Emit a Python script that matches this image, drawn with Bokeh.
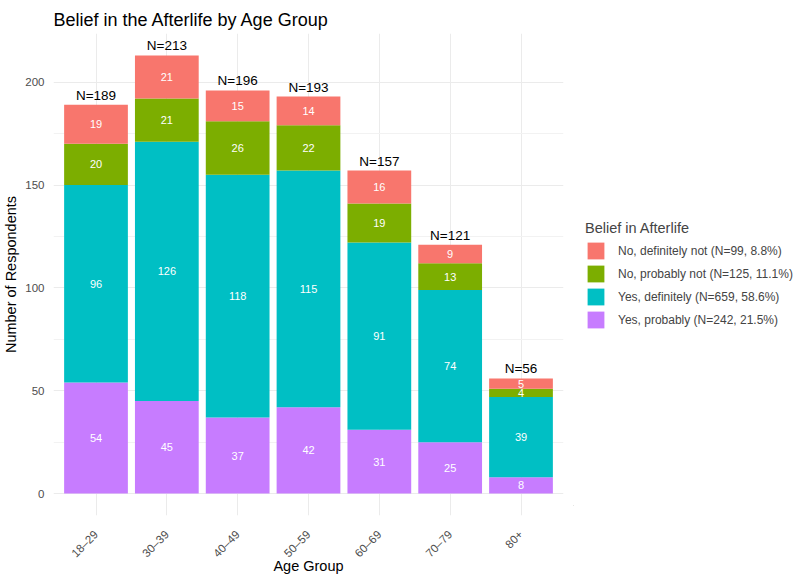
import math
from bokeh.plotting import figure
from bokeh.layouts import row
from bokeh.models import (ColumnDataSource, Range1d, FixedTicker, Legend, LegendItem)
from bokeh.core.properties import value
from bokeh.embed import file_html
from bokeh.resources import INLINE

age_groups = ["18–29", "30–39", "40–49", "50–59", "60–69", "70–79", "80+"]
yes_probably = [54, 45, 37, 42, 31, 25, 8]
yes_definitely = [96, 126, 118, 115, 91, 74, 39]
no_probably_not = [20, 21, 26, 22, 19, 13, 4]
no_definitely_not = [19, 21, 15, 14, 16, 9, 5]

series_keys = ["yes_probably", "yes_definitely", "no_probably_not", "no_definitely_not"]
series_vals = [yes_probably, yes_definitely, no_probably_not, no_definitely_not]
series_colors = ["#C77CFF", "#00BFC4", "#7CAE00", "#F8766D"]
legend_labels = {
    "no_definitely_not": "No, definitely not (N=99, 8.8%)",
    "no_probably_not": "No, probably not (N=125, 11.1%)",
    "yes_definitely": "Yes, definitely (N=659, 58.6%)",
    "yes_probably": "Yes, probably (N=242, 21.5%)",
}
legend_order = ["no_definitely_not", "no_probably_not", "yes_definitely", "yes_probably"]

FONT = "Liberation Sans"

xs = [i + 1 for i in range(len(age_groups))]
data = {"x": xs}
for k, v in zip(series_keys, series_vals):
    data[k] = v
source = ColumnDataSource(data)

totals = [sum(t) for t in zip(*series_vals)]

TOP = 33
FRAME_W = 510
FRAME_H = 482
BOTTOM = 50
H = 566

p = figure(frame_width=FRAME_W, frame_height=FRAME_H, output_backend="svg", toolbar_location=None,
           x_range=Range1d(0.4, 7.6), y_range=Range1d(-10.65, 223.65),
           min_border_left=46, min_border_top=TOP, min_border_bottom=BOTTOM, min_border_right=10,
           title="Belief in the Afterlife by Age Group")
p.title.text_font = FONT
p.title.text_font_size = "18px"
p.title.text_font_style = "normal"
p.title.text_color = "black"
p.title.offset = 0
p.title.standoff = 8

renderers = p.vbar_stack(series_keys, x="x", width=0.9, source=source,
                         color=series_colors, line_color=None)

# segment labels
lx, ly, lt = [], [], []
for i in range(len(xs)):
    base = 0
    for v in series_vals:
        lx.append(xs[i]); ly.append(base + v[i] / 2); lt.append(str(v[i]))
        base += v[i]
seg_src = ColumnDataSource(dict(x=lx, y=ly, t=lt))
p.text(x="x", y="y", text="t", source=seg_src, text_color="white", text_font_size="11px",
       text_align="center", text_baseline="middle", text_font=value(FONT))

tot_src = ColumnDataSource(dict(x=xs, y=totals, t=["N=%d" % t for t in totals]))
p.text(x="x", y="y", text="t", source=tot_src, text_color="black", text_font_size="13.5px",
       text_align="center", text_baseline="bottom", y_offset=-2, text_font=value(FONT))

# axes
p.xaxis.ticker = FixedTicker(ticks=xs)
p.xaxis.major_label_overrides = {x: g for x, g in zip(xs, age_groups)}
p.xaxis.major_label_orientation = math.pi / 4
p.yaxis.ticker = FixedTicker(ticks=[0, 50, 100, 150, 200], minor_ticks=[25, 75, 125, 175])
for ax in (p.xaxis[0], p.yaxis[0]):
    ax.axis_line_color = None
    ax.major_tick_line_color = None
    ax.minor_tick_line_color = None
    ax.major_label_text_font = FONT
    ax.major_label_text_font_size = "11.5px"
    ax.major_label_text_color = "#4D4D4D"
    ax.axis_label_text_font = FONT
    ax.axis_label_text_font_size = "14.5px"
    ax.axis_label_text_font_style = "normal"
    ax.axis_label_text_color = "black"
p.yaxis.major_label_standoff = 3
p.yaxis.axis_label_standoff = 3
p.xaxis.major_label_standoff = 11
p.xaxis.axis_label_standoff = -9
p.xaxis.axis_label = "Age Group"
p.yaxis.axis_label = "Number of Respondents"

p.xgrid.grid_line_color = "#EBEBEB"
p.ygrid.grid_line_color = "#EBEBEB"
p.ygrid.minor_grid_line_color = "#F2F2F2"
p.xgrid.grid_line_width = 1
p.ygrid.grid_line_width = 1
p.outline_line_color = None
p.background_fill_color = "white"
p.border_fill_color = "white"

# legend panel as a separate figure
LW = 228
q = figure(width=LW, height=H, output_backend="svg", toolbar_location=None,
           x_range=Range1d(0, LW), y_range=Range1d(0, H),
           x_axis_location=None, y_axis_location=None,
           min_border=0)
q.grid.visible = False
q.outline_line_color = None
q.border_fill_color = "white"
q.background_fill_color = "white"

key_r = {}
for k, c in zip(series_keys, series_colors):
    key_r[k] = q.vbar(x=[-1000], top=[-1000], bottom=[-1001], width=1, fill_color=c, line_color=None)
items = [LegendItem(label=legend_labels[k], renderers=[key_r[k]]) for k in legend_order]
legend = Legend(items=items, title="Belief in Afterlife", location=(12, H - 391))
legend.border_line_color = None
legend.background_fill_alpha = 0
legend.glyph_width = 21
legend.glyph_height = 21
legend.label_standoff = 12
legend.spacing = 2
legend.padding = 5
legend.margin = 0
legend.label_text_font = FONT
legend.label_text_font_size = "12px"
legend.title_text_font = FONT
legend.title_text_font_size = "14.5px"
legend.title_text_font_style = "normal"
legend.title_standoff = 4
q.add_layout(legend, "center")

layout = row(p, q)
open("out.html", "w").write(file_html(layout, INLINE))
